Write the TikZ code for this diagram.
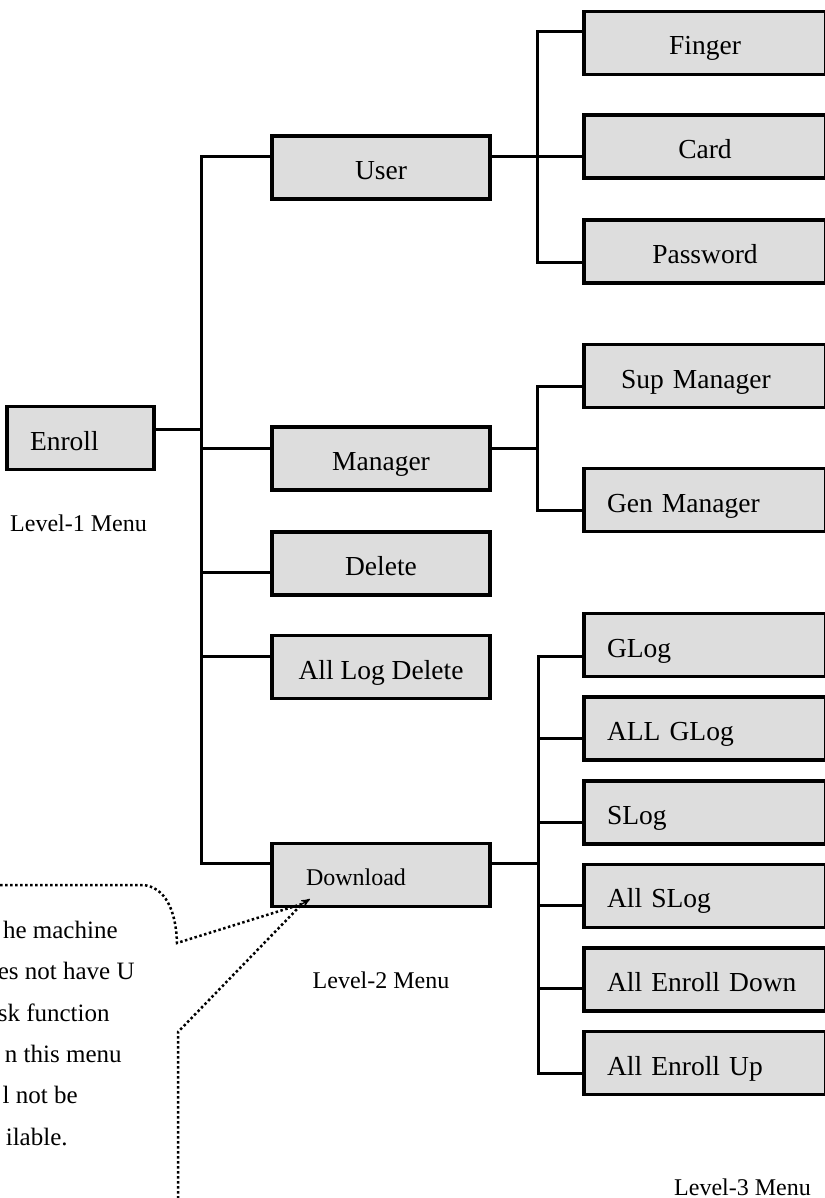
\documentclass[tikz,border=0pt]{standalone}
\usepackage{fontspec}
\setmainfont{Liberation Serif}
\definecolor{boxfill}{RGB}{221,221,221}
\usetikzlibrary{
	arrows
}
\tikzset{
	>=stealth',
	link/.style={line width=1.5pt},
	menubox/.style={draw, fill=boxfill, line width=1.8pt, minimum height=31.5pt, inner sep=0pt, text height=14pt, text depth=2pt, font=\fontsize{13.75}{16}\selectfont},
	lvltwo/.style={menubox, minimum width=109pt},
	lvlthree/.style={menubox, minimum width=121pt},
	leftthree/.style={lvlthree, inner xsep=11.5pt, text width=98pt, align=left},
	menulabel/.style={font=\fontsize{12}{14}\selectfont, inner sep=0pt},
	notetext/.style={font=\fontsize{12.5}{15}\selectfont, inner sep=0pt, anchor=east},
	noteline/.style={line width=1.25pt, dash pattern=on 1.25pt off 1.25pt}
}

\begin{document}
\begin{tikzpicture}[x=0.5pt, y=-0.5pt]
	\useasboundingbox (0,0) rectangle (824,1198);
	% level 1
	\node[menubox, minimum width=73.5pt, inner xsep=11.5pt, text width=50.5pt, align=left] (enroll) at (80.5,438) {Enroll};
	\node[menulabel] (lvlone) at (78.5,523) {Level-1 Menu};
	% level 2
	\node[lvltwo] (user) at (381,167.5) {User};
	\node[lvltwo] (manager) at (381,458.5) {Manager};
	\node[lvltwo] (delete) at (381,563.5) {Delete};
	\node[lvltwo] (alldel) at (381,667) {All Log Delete};
	\node[lvltwo, inner xsep=17pt, text width=75pt, align=left, text height=12pt, font=\fontsize{12}{14}\selectfont] (download) at (381,875) {Download};
	\node[menulabel] (lvltwolabel) at (381,980) {Level-2 Menu};
	% level 3
	\node[lvlthree] (finger) at (705,43) {Finger};
	\node[lvlthree] (card) at (705,146.5) {Card};
	\node[lvlthree] (password) at (705,251.5) {Password};
	\node[lvlthree, inner xsep=18.5pt, text width=84pt, align=left] (supman) at (705,376) {Sup Manager};
	\node[leftthree] (genman) at (705,500) {Gen Manager};
	\foreach \name [count=\i from 0] in {GLog,ALL GLog,SLog,All SLog,All Enroll Down,All Enroll Up} {
		\node[leftthree] (log\i) at (705,645+83.6*\i) {\name};
	}
	\node[menulabel] (lvlthreelabel) at (742.5,1187) {Level-3 Menu};
	% level 1 -> level 2
	\draw[link] (enroll.east |- 0,429) -- (201,429);
	\draw[link] (user.west |- 0,157) -| (201,863) -- (download.west |- 0,863);
	\foreach \nd/\y in {manager/448, delete/572, alldel/656} {
		\draw[link] (201,\y) -- (\nd.west |- 0,\y);
	}
	% user group
	\draw[link] (finger.west |- 0,32) -| (537,262) -- (password.west |- 0,262);
	\draw[link] (user.east |- 0,157) -- (card.west |- 0,157);
	% manager group
	\draw[link] (supman.west |- 0,386) -| (537,510) -- (genman.west |- 0,510);
	\draw[link] (manager.east |- 0,448) -- (537,448);
	% download group
	\draw[link] (log0.west |- 0,656) -| (538,1073) -- (log5.west |- 0,1073);
	\foreach \i/\y in {1/738, 2/822, 3/905, 4/988} {
		\draw[link] (538,\y) -- (log\i.west |- 0,\y);
	}
	\draw[link] (download.east |- 0,863) -- (538,863);
	% callout
	\coordinate (meet) at (302,904);
	\coordinate (tip) at (310,899);
	\draw[noteline] (-5,885) -- (143,885) .. controls (165,887) and (176,910) .. (177,943) -- (meet) -- (178,1032) -- (178,1205);
	\draw[->, line width=0.6pt] (meet) -- (tip);
	\foreach \txt/\xr [count=\i from 0] in {he machine/118, es not have U/135, sk function/110, n this menu/122, l not be/78, ilable./68} {
		\node[notetext] (note\i) at (\xr,930+41.3*\i) {\txt};
	}
\end{tikzpicture}
\end{document}
